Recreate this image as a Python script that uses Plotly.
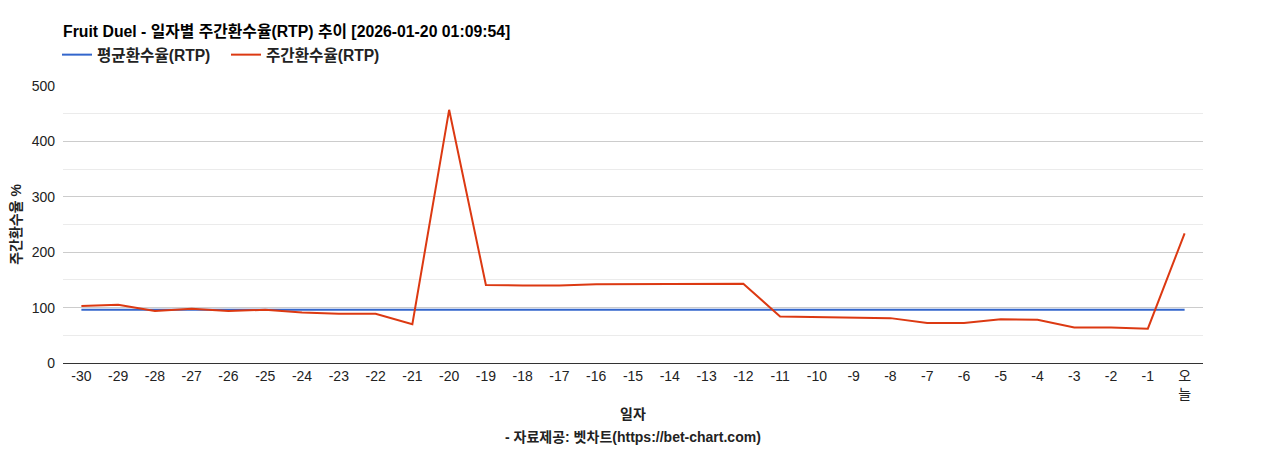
import plotly.graph_objects as go

days = [str(d) for d in range(-30, 0)] + ["오<br>늘"]
weekly_rtp = [103, 105, 94, 98, 94, 96, 91, 89, 89, 70,
              457, 141, 140, 140, 142, 142, 142, 142, 143, 84,
              83, 81, 81, 72, 72, 79, 78, 64, 64, 62, 234]
avg_rtp = [96] * len(days)

FONT = "Arial, 'Liberation Sans', 'Noto Sans CJK KR', sans-serif"

W, H = 1260, 442
PLOT_H = 277

fig = go.Figure()
fig.add_trace(go.Scatter(x=days, y=avg_rtp, mode="lines", name="<b>평균환수율(RTP)</b>",
                         line=dict(color="#3366cc", width=2)))
fig.add_trace(go.Scatter(x=days, y=weekly_rtp, mode="lines", name="<b>주간환수율(RTP)</b>",
                         line=dict(color="#dc3912", width=2)))

fig.update_layout(
    width=W, height=H,
    margin=dict(l=55, r=65, t=78, b=87, autoexpand=False),
    paper_bgcolor="white", plot_bgcolor="white",
    font=dict(family=FONT, size=14, color="#222222"),
    title=dict(text="<b>Fruit Duel - 일자별 주간환수율(RTP) 추이 [2026-01-20 01:09:54]</b>",
               x=0, xref="paper", xanchor="left", y=1 - 23/H, yanchor="middle",
               font=dict(size=15.8, color="#000000")),
    legend=dict(orientation="h", x=-6/1140, xanchor="left", y=1 + 31/PLOT_H, yanchor="middle",
                font=dict(size=15.6, color="#222222"), itemwidth=30,
                entrywidth=124, entrywidthmode="pixels",
                traceorder="normal"),
    showlegend=True,
    xaxis=dict(type="category", showgrid=False, showline=True, linecolor="#333333",
               linewidth=1, ticks="", tickfont=dict(size=14, color="#222222"),
               range=[-0.5, len(days) - 0.5], automargin=False),
    yaxis=dict(range=[0, 500], tickvals=[0, 100, 200, 300, 400, 500],
               showgrid=True, gridcolor="#cccccc", gridwidth=1, zeroline=False,
               minor=dict(tickvals=[50, 150, 250, 350, 450], showgrid=True,
                          gridcolor="#ebebeb", gridwidth=1),
               tickfont=dict(size=14, color="#222222"), ticklabelstandoff=7,
               automargin=False,
               title=dict(text="<b>주간환수율 %</b>", font=dict(size=14, color="#222222"),
                          standoff=6)),
    annotations=[
        dict(text="<b>일자</b>", x=0.5, xref="paper", y=-51/PLOT_H, yref="paper",
             showarrow=False, yanchor="middle", font=dict(size=14, color="#222222")),
        dict(text="<b>- 자료제공: 벳차트(https://bet-chart.com)</b>", x=0.5, xref="paper",
             y=-74/PLOT_H, yref="paper", showarrow=False, yanchor="middle",
             font=dict(size=14, color="#222222")),
    ],
)

fig.write_html("out.html")
